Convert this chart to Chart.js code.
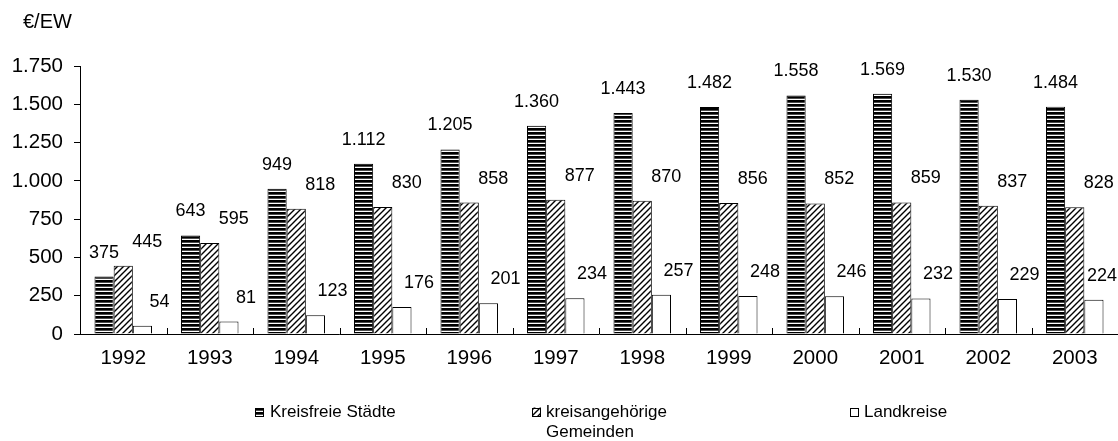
<!DOCTYPE html>
<html>
<head>
<meta charset="utf-8">
<script src="https://cdn.jsdelivr.net/npm/chart.js@4.4.1/dist/chart.umd.min.js"></script>
<style>
  html, body { margin: 0; padding: 0; background: #fff; }
  #wrap { position: relative; width: 1118px; height: 441px; }
</style>
</head>
<body>
<div id="wrap"><canvas id="chart"></canvas></div>
<script>
// Ausgaben je Einwohner (€/EW), 1992–2003
const years = ['1992', '1993', '1994', '1995', '1996', '1997', '1998', '1999', '2000', '2001', '2002', '2003'];
const kreisfreieStaedte = [375, 643, 949, 1112, 1205, 1360, 1443, 1482, 1558, 1569, 1530, 1484];
const kreisangehoerigeGemeinden = [445, 595, 818, 830, 858, 877, 870, 856, 852, 859, 837, 828];
const landkreise = [54, 81, 123, 176, 201, 234, 257, 248, 246, 232, 229, 224];
const seriesNames = ['Kreisfreie Städte', ['kreisangehörige', 'Gemeinden'], 'Landkreise'];
const unitLabel = '€/EW';
const yMin = 0, yMax = 1750, yStep = 250;

const FONT = '"Liberation Sans", Arial, Helvetica, sans-serif';
const AXIS_SIZE = 20.5, VALUE_SIZE = 18, LEGEND_SIZE = 17;
Chart.defaults.font.family = FONT;
Chart.defaults.font.size = AXIS_SIZE;
Chart.defaults.color = '#000';

// German number format: 1.360
function fmt(v) { return String(v).replace(/\B(?=(\d{3})+(?!\d))/g, '.'); }

// Fill patterns: dense horizontal stripes, thin diagonal hatching, plain white
function stripePattern() {
  const c = document.createElement('canvas');
  c.width = 8; c.height = 4;
  const g = c.getContext('2d');
  g.fillStyle = '#fff'; g.fillRect(0, 0, 8, 4);
  g.fillStyle = '#000'; g.fillRect(0, 0, 8, 2.7);
  return g.createPattern(c, 'repeat');
}
function diagPattern() {
  const s = 6;
  const c = document.createElement('canvas');
  c.width = s; c.height = s;
  const g = c.getContext('2d');
  g.fillStyle = '#fff'; g.fillRect(0, 0, s, s);
  g.strokeStyle = '#000'; g.lineWidth = 1.4;
  g.beginPath();
  g.moveTo(-1, s + 1); g.lineTo(s + 1, -1);
  g.moveTo(-1, 1); g.lineTo(1, -1);
  g.moveTo(s - 1, s + 1); g.lineTo(s + 1, s - 1);
  g.stroke();
  return g.createPattern(c, 'repeat');
}
const fills = [stripePattern(), diagPattern(), '#fff'];

// Value labels above the bars
const valueLabels = {
  id: 'valueLabels',
  afterDatasetsDraw(chart) {
    const ctx = chart.ctx;
    const dx = [0, 24, 17];
    ctx.save();
    ctx.font = VALUE_SIZE + 'px ' + FONT;
    ctx.fillStyle = '#000';
    ctx.textAlign = 'center';
    ctx.textBaseline = 'middle';
    chart.data.datasets.forEach((ds, i) => {
      chart.getDatasetMeta(i).data.forEach((bar, j) => {
        const t = fmt(ds.data[j]);
        const w = ctx.measureText(t).width;
        const x = Math.min(bar.x + dx[i], chart.width - w / 2 - 1);
        ctx.fillText(t, x, bar.y - 24);
      });
    });
    ctx.restore();
  }
};

// Short inward tick marks between the year groups on the x axis
const categoryTicks = {
  id: 'categoryTicks',
  afterDraw(chart) {
    const xs = chart.scales.x;
    const ctx = chart.ctx;
    const n = chart.data.labels.length;
    const cw = xs.width / n;
    ctx.save();
    ctx.strokeStyle = '#000';
    ctx.lineWidth = 1;
    ctx.beginPath();
    for (let i = 1; i < n; i++) {
      const x = Math.round(xs.getPixelForValue(i) - cw / 2) + 0.5;
      ctx.moveTo(x, xs.top);
      ctx.lineTo(x, xs.top - 6);
    }
    ctx.stroke();
    ctx.restore();
  }
};

// Unit label and legend
const annotations = {
  id: 'annotations',
  afterDraw(chart) {
    const ctx = chart.ctx;
    ctx.save();
    ctx.fillStyle = '#000';
    ctx.textAlign = 'left';
    ctx.textBaseline = 'middle';
    ctx.font = '20px ' + FONT;
    ctx.fillText(unitLabel, 23, 22);

    ctx.font = LEGEND_SIZE + 'px ' + FONT;
    const items = [
      { box: 255, text: 270 },
      { box: 532, text: 546 },
      { box: 850, text: 864 }
    ];
    const ly = 412, size = 9, lineH = 20;
    items.forEach((it, i) => {
      ctx.fillStyle = fills[i];
      ctx.fillRect(it.box, ly - size / 2, size, size);
      ctx.strokeStyle = '#000';
      ctx.lineWidth = 1;
      ctx.strokeRect(it.box + 0.5, Math.round(ly - size / 2) + 0.5, size - 1, size - 1);
      ctx.fillStyle = '#000';
      const lines = Array.isArray(seriesNames[i]) ? seriesNames[i] : [seriesNames[i]];
      lines.forEach((l, k) => ctx.fillText(l, it.text, ly + k * lineH));
    });
    ctx.restore();
  }
};

const datasetValues = [kreisfreieStaedte, kreisangehoerigeGemeinden, landkreise];

new Chart(document.getElementById('chart'), {
  type: 'bar',
  data: {
    labels: years,
    datasets: datasetValues.map((vals, i) => ({
      label: Array.isArray(seriesNames[i]) ? seriesNames[i].join(' ') : seriesNames[i],
      data: vals,
      backgroundColor: fills[i],
      borderColor: '#000',
      borderWidth: 1,
      categoryPercentage: 0.665,
      barPercentage: 1.0
    }))
  },
  options: {
    responsive: true,
    maintainAspectRatio: false,
    animation: false,
    events: [],
    layout: { padding: { top: 66, right: 0, bottom: 67, left: 0 } },
    plugins: {
      legend: { display: false },
      tooltip: { enabled: false },
      title: { display: false }
    },
    scales: {
      x: {
        grid: { display: true, drawOnChartArea: false, drawTicks: false },
        border: { display: true, color: '#000', width: 1 },
        ticks: { padding: 12, color: '#000', font: { size: AXIS_SIZE }, maxRotation: 0, autoSkip: false },
        afterFit(scale) { scale.height = 40; }
      },
      y: {
        min: yMin,
        max: yMax,
        grid: { display: true, drawOnChartArea: false, drawTicks: true, tickLength: 6, color: '#000' },
        border: { display: true, color: '#000', width: 1 },
        ticks: {
          stepSize: yStep,
          padding: 11,
          color: '#000',
          font: { size: AXIS_SIZE },
          callback: (v) => fmt(v)
        },
        afterFit(scale) { scale.width = 80; }
      }
    }
  },
  plugins: [valueLabels, categoryTicks, annotations]
});
</script>
</body>
</html>
